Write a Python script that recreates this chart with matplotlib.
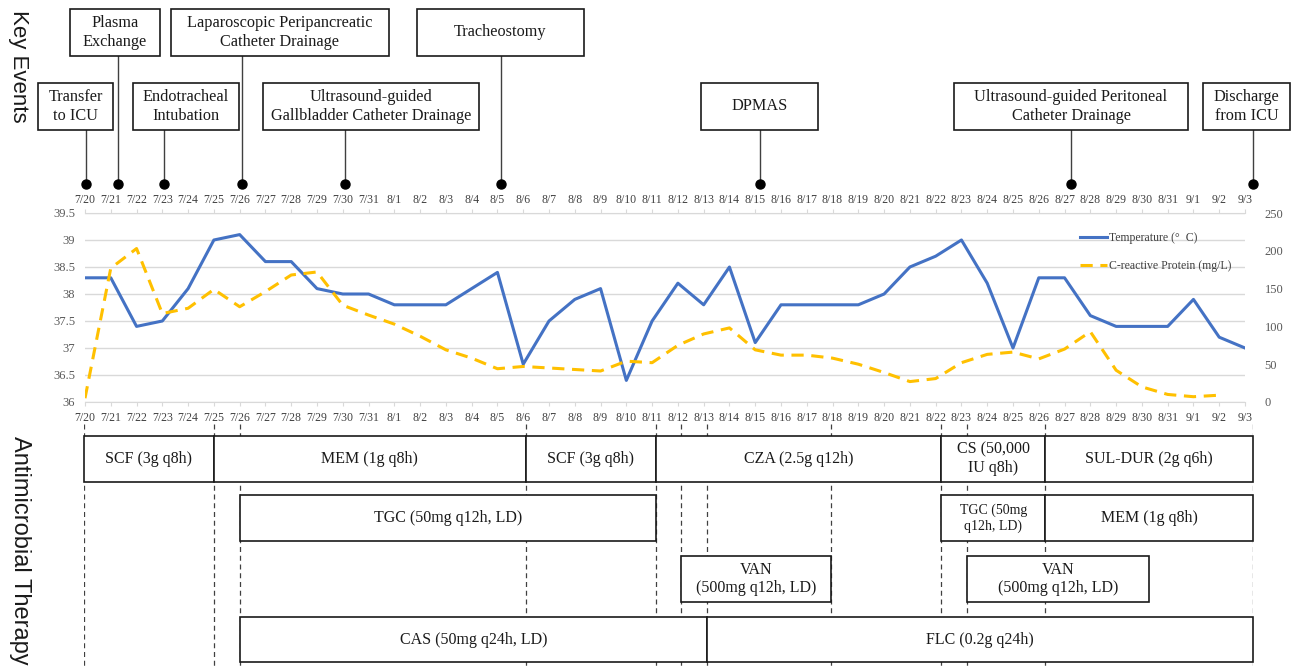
import numpy as np
import pandas as pd
import matplotlib.pyplot as plt
from matplotlib.patches import Rectangle
from matplotlib.ticker import FuncFormatter

# ICU stay, one point per day
dates = pd.date_range('2024-07-20', '2024-09-03', freq='D')
date_labels = [f'{d.month}/{d.day}' for d in dates]

temperature = [38.3, 38.3, 37.4, 37.5, 38.1, 39.0, 39.1, 38.6, 38.6, 38.1, 38.0, 38.0,
               37.8, 37.8, 37.8, 38.1, 38.4, 36.7, 37.5, 37.9, 38.1, 36.4,
               37.5, 38.2, 37.8, 38.5, 37.1, 37.8, 37.8, 37.8, 37.8, 38.0,
               38.5, 38.7, 39.0, 38.2, 37.0, 38.3, 38.3, 37.6, 37.4, 37.4, 37.4,
               37.9, 37.2, 37.0]
crp = [5, 177, 203, 117, 124, 149, 126, 146, 168, 172, 128, 115,
       103, 87, 69, 58, 44, 47, 45, 43, 41, 54,
       52, 75, 90, 98, 69, 62, 62, 58, 50, 39,
       27, 31, 52, 63, 66, 57, 70, 93, 42, 20, 10,
       7, 9, np.nan]

# key events: day offset from 7/20
event_labels = ['Transfer\nto ICU', 'Plasma\nExchange', 'Endotracheal\nIntubation',
                'Laparoscopic Peripancreatic\nCatheter Drainage',
                'Ultrasound-guided\nGallbladder Catheter Drainage', 'Tracheostomy',
                'DPMAS', 'Ultrasound-guided Peritoneal\nCatheter Drainage',
                'Discharge\nfrom ICU']
event_days = [0, 1.25, 3, 6, 10, 16, 26, 38, 45]

# antimicrobial regimens: start/end as day offsets
drug_labels = ['SCF (3g q8h)', 'MEM (1g q8h)', 'SCF (3g q8h)', 'CZA (2.5g q12h)',
               'CS (50,000\nIU q8h)', 'SUL-DUR (2g q6h)',
               'TGC (50mg q12h, LD)', 'TGC (50mg\nq12h, LD)', 'MEM (1g q8h)',
               'VAN\n(500mg q12h, LD)', 'VAN\n(500mg q12h, LD)',
               'CAS (50mg q24h, LD)', 'FLC (0.2g q24h)']
drug_start = [0, 5, 17, 22, 33, 37, 6, 33, 37, 23, 34, 6, 24]
drug_end = [5, 17, 22, 33, 37, 45, 22, 37, 45, 28.75, 41, 24, 45]
drug_row = [0, 0, 0, 0, 0, 0, 1, 1, 1, 2, 2, 3, 3]
guide_days = [0, 5, 6, 17, 22, 23, 24, 28.75, 33, 34, 37, 45]

# layout (pixels of the 1291x669 canvas)
W, H = 1291, 669
event_box_x = [(38, 113), (70, 160), (133, 239), (171, 389), (263, 479),
               (417, 584), (701, 818), (954, 1188), (1203, 1290)]
event_box_row = [1, 0, 1, 0, 1, 0, 1, 1, 1]
event_row_y = [(9, 56), (83, 130)]
drug_row_y = [(436, 482), (495, 541), (556, 602), (617, 662)]
drug_fontsize = [11.5] * len(drug_labels)
drug_fontsize[7] = 10

SERIF = 'Liberation Serif'
SANS = 'Liberation Sans'
INK = '#1a1a1a'

fig = plt.figure(figsize=(W / 100, H / 100), dpi=100)

# ---- temperature / CRP chart ----
ax = fig.add_axes([85 / W, 1 - 402 / H, 1160 / W, 189 / H])
x = np.arange(len(dates))
l1, = ax.plot(x, temperature, color='#4472C4', lw=2.2, label='Temperature (°  C)', zorder=3)
ax.set_xlim(0, len(dates) - 1)
ax.set_ylim(36, 39.5)
ax.set_yticks(np.arange(36, 39.51, 0.5))
ax.yaxis.set_major_formatter(FuncFormatter(lambda v, p: f'{v:g}'))
ax.yaxis.grid(True, color='#d9d9d9', lw=1)
ax.set_axisbelow(True)
for s in ['left', 'right', 'top']:
    ax.spines[s].set_visible(False)
ax.spines['bottom'].set_color('#d9d9d9')
ax.tick_params(axis='y', length=0, pad=7, labelsize=9, labelcolor='#595959')
for lab in ax.get_yticklabels():
    lab.set_family(SERIF)
ax.set_xticks(x, labels=date_labels)
ax.tick_params(axis='x', direction='out', length=3, color='#d9d9d9', pad=4,
               labelsize=8.5, labelcolor='#404040')
for lab in ax.get_xticklabels():
    lab.set_family(SERIF)

top = ax.secondary_xaxis('top')
top.set_xticks(x, labels=date_labels)
top.tick_params(direction='out', length=3, color='#d9d9d9', pad=2,
                labelsize=8.5, labelcolor='#404040')
top.spines['top'].set_color('#d9d9d9')
for lab in top.get_xticklabels():
    lab.set_family(SERIF)

ax2 = ax.twinx()
l2, = ax2.plot(x, crp, color='#FFC000', lw=2.2, dashes=(4, 2.5),
               label='C-reactive Protein (mg/L)', zorder=2)
ax2.set_ylim(0, 250)
ax2.set_yticks(np.arange(0, 251, 50))
for s in ax2.spines.values():
    s.set_visible(False)
ax2.tick_params(axis='y', length=0, pad=14, labelsize=9, labelcolor='#595959')
for lab in ax2.get_yticklabels():
    lab.set_family(SERIF)

ax2.legend(handles=[l1, l2], loc='upper left', bbox_to_anchor=(1080 / W, 1 - 232 / H),
           bbox_transform=fig.transFigure, frameon=False, borderpad=0, borderaxespad=0,
           handlelength=2.3, handletextpad=0.15, labelspacing=1.35,
           prop={'family': SERIF, 'size': 8.5}, labelcolor='#404040')

# ---- key events ----
ev = fig.add_axes([86 / W, 1 - 200 / H, 1167 / W, 200 / H])
ev.set_xlim(0, 45)
ev.set_ylim(200, 0)
ev.axis('off')
px_day = 1167 / 45
for lab, day, (bx0, bx1), row in zip(event_labels, event_days, event_box_x, event_box_row):
    y0, y1 = event_row_y[row]
    d0 = (bx0 - 86) / px_day
    d1 = (bx1 - 86) / px_day
    ev.add_patch(Rectangle((d0, y0), d1 - d0, y1 - y0, facecolor='white',
                           edgecolor=INK, lw=1.2, clip_on=False, zorder=3))
    ev.text((d0 + d1) / 2, (y0 + y1) / 2, lab, ha='center', va='center',
            family=SERIF, fontsize=11.7, color=INK, clip_on=False, zorder=4)
    ev.plot([day, day], [y1, 184], color='#404040', lw=1, clip_on=False, zorder=2)
    ev.plot(day, 184, 'o', color='black', ms=6.5, clip_on=False, zorder=4)

# ---- antimicrobial therapy ----
th = fig.add_axes([84 / W, 0, 1169 / W, (H - 420) / H])
th.set_xlim(0, 45)
th.set_ylim(H, 420)
th.axis('off')
th.vlines(guide_days, 424, H, colors='#404040', lw=0.9, linestyles=(0, (4, 3)), zorder=1)
for lab, s, e, row, fs in zip(drug_labels, drug_start, drug_end, drug_row, drug_fontsize):
    y0, y1 = drug_row_y[row]
    th.add_patch(Rectangle((s, y0), e - s, y1 - y0, facecolor='white',
                           edgecolor=INK, lw=1.2, clip_on=False, zorder=3))
    th.text((s + e) / 2, (y0 + y1) / 2, lab, ha='center', va='center',
            family=SERIF, fontsize=fs, color=INK, zorder=4)

fig.text(18 / W, 1 - 10 / H, 'Key Events', rotation=-90, ha='center', va='top',
         family=SANS, fontsize=16, color=INK)
fig.text(20 / W, 1 - 436 / H, 'Antimicrobial Therapy', rotation=-90, ha='center', va='top',
         family=SANS, fontsize=17, color=INK)

fig.savefig('out.png', dpi=100)
